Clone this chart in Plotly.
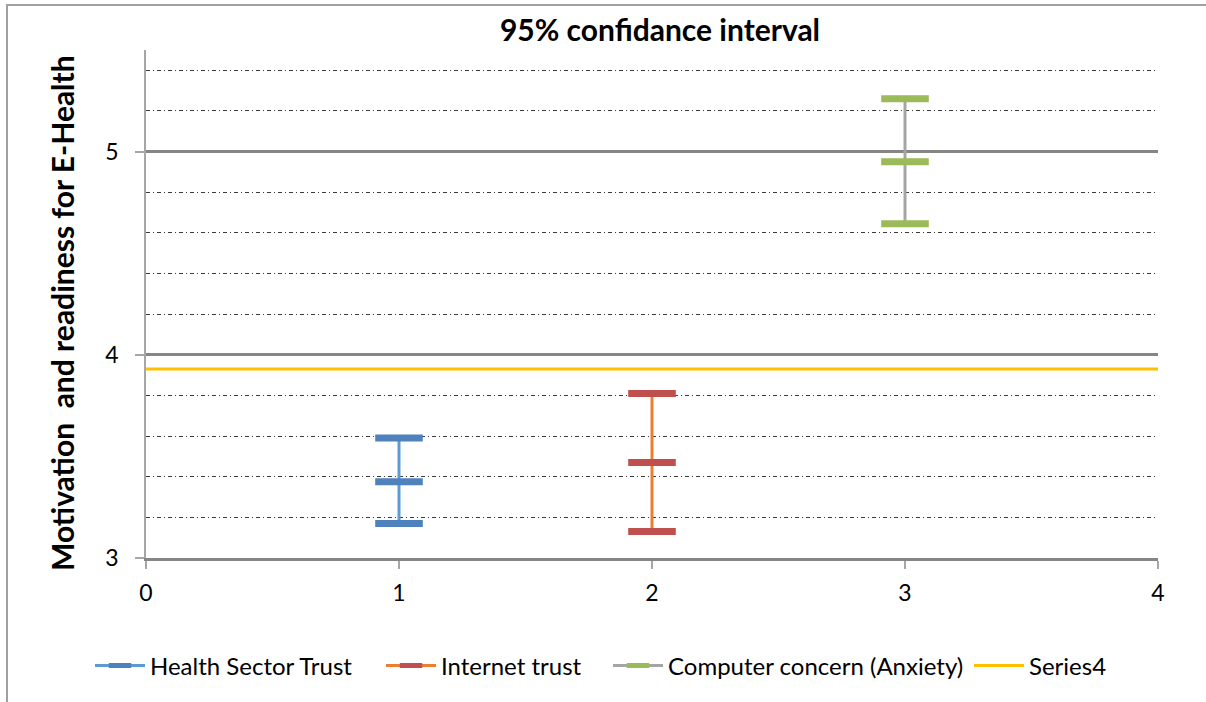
import plotly.graph_objects as go

# Confidence interval per factor: lower bound, mean, upper bound
factors = ["Health Sector Trust", "Internet trust", "Computer concern (Anxiety)"]
factor_x = [1, 2, 3]
lower = [3.17, 3.13, 4.645]
mean = [3.375, 3.47, 4.95]
upper = [3.59, 3.81, 5.26]

line_colors = ["#5B9BD5", "#ED7D31", "#A5A5A5"]
marker_colors = ["#4F81BD", "#C0504D", "#9BBB59"]

# Reference line (Series4)
ref_x = [0, 4]
ref_y = [3.93, 3.93]

FONT = "Lato"

W, H = 1206, 702
L, R, T, B = 146, 48, 50, 144
pw, ph = W - L - R, H - T - B

def px(xp):
    return (xp - L) / pw

def py(yp):
    return (H - B - yp) / ph

# one legend box per entry so the entries keep their spacing along the bottom
legend_ids = ["legend", "legend2", "legend3", "legend4"]
legend_left = [90, 381, 608, 969]

fig = go.Figure()

for i, (name, xv, lo, mu, hi, lc, mc) in enumerate(zip(
        factors, factor_x, lower, mean, upper, line_colors, marker_colors)):
    fig.add_trace(go.Scatter(
        x=[xv, xv, xv], y=[lo, mu, hi], name=name,
        mode="lines+markers",
        line=dict(color=lc, width=3),
        marker=dict(symbol="line-ew", size=34,
                    line=dict(color=mc, width=7)),
        legend=legend_ids[i],
    ))

fig.add_trace(go.Scatter(
    x=ref_x, y=ref_y, name="Series4", mode="lines",
    line=dict(color="#FFC000", width=3),
    legend=legend_ids[3],
))

legend_style = dict(orientation="h", xanchor="left", y=py(666),
                    yanchor="middle", font=dict(family=FONT, size=24),
                    itemwidth=50, bgcolor="rgba(0,0,0,0)")

fig.update_layout(
    width=W, height=H,
    margin=dict(l=L, r=R, t=T, b=B),
    paper_bgcolor="white", plot_bgcolor="white",
    font=dict(family=FONT, size=23, color="#000000"),
    title=dict(text="<b>95% confidance interval</b>",
               font=dict(family=FONT, size=30, color="#000000"),
               x=px(660), xanchor="center", xref="paper",
               y=1 - 30 / H, yanchor="middle"),
    showlegend=True,
    xaxis=dict(range=[0, 4], dtick=1, tick0=0,
               showgrid=False, zeroline=False,
               showline=True, linecolor="#868686", linewidth=3,
               ticks="outside", ticklen=8, tickcolor="#A6A6A6", tickwidth=2,
               tickfont=dict(family=FONT, size=23), ticklabelstandoff=4),
    yaxis=dict(range=[3, 5.5], dtick=1, tick0=3,
               showgrid=True, gridcolor="#868686", gridwidth=3,
               zeroline=False,
               showline=True, linecolor="#A6A6A6", linewidth=1.5,
               ticks="outside", ticklen=9, tickcolor="#A6A6A6", tickwidth=1.5,
               tickfont=dict(family=FONT, size=23), ticklabelstandoff=12,
               minor=dict(dtick=0.2, tick0=3, showgrid=True,
                          gridcolor="#3A3A3A", gridwidth=1,
                          griddash="4px,3px,1px,3px", ticks="")),
    annotations=[dict(text="<b>Motivation  and readiness for E-Health</b>",
                      xref="paper", yref="paper", x=px(62), y=py(313),
                      xanchor="center", yanchor="middle", textangle=-90,
                      showarrow=False, font=dict(family=FONT, size=30))],
    shapes=[dict(type="rect", xref="paper", yref="paper",
                 x0=px(7), x1=px(1230), y0=py(730), y1=py(5),
                 line=dict(color="#A0A0A0", width=2), layer="below")],
)

for lid, left in zip(legend_ids, legend_left):
    fig.update_layout({lid: dict(legend_style, x=px(left))})

fig.write_html("out.html")
